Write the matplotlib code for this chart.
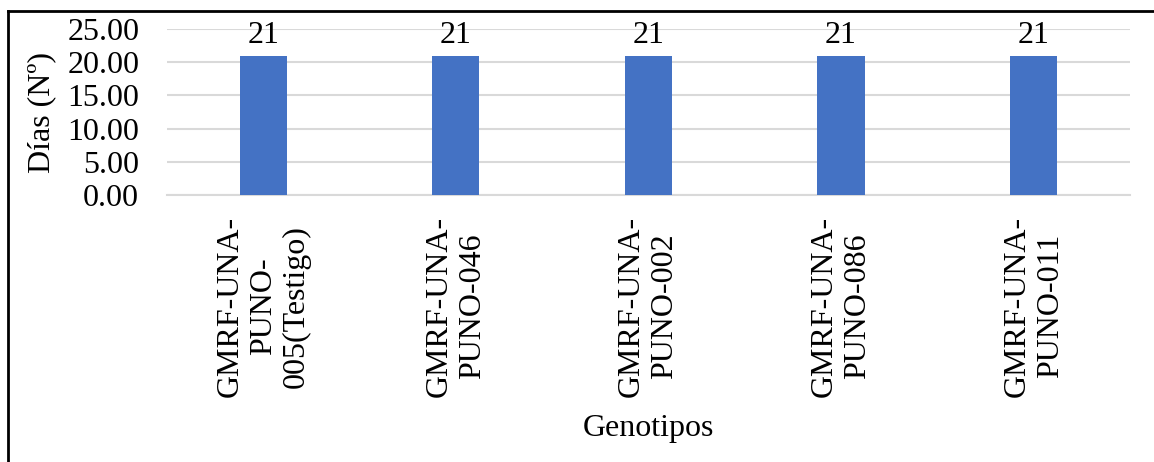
import matplotlib.pyplot as plt
from matplotlib.lines import Line2D

# Datos: días por genotipo
genotipos = ["GMRF-UNA-\nPUNO-\n005(Testigo)", "GMRF-UNA-\nPUNO-046",
             "GMRF-UNA-\nPUNO-002", "GMRF-UNA-\nPUNO-086", "GMRF-UNA-\nPUNO-011"]
dias = [21, 21, 21, 21, 21]
yticks = [0, 5, 10, 15, 20, 25]

plt.rcParams['font.family'] = ['Liberation Serif', 'DejaVu Serif']
fs = 23

fig = plt.figure(figsize=(11.54, 4.62), dpi=100)
ax = fig.add_axes([0.1447, 0.578, 0.8343, 0.359])

x = range(len(genotipos))
bars = ax.bar(x, dias, width=0.245, color='#4472C4', zorder=3)

for b, v in zip(bars, dias):
    ax.annotate(f"{v}", (b.get_x() + b.get_width() / 2, v), xytext=(0, 4),
                textcoords='offset points', ha='center', va='bottom', fontsize=fs)

ax.set_xlim(-0.5, len(genotipos) - 0.5)
ax.set_ylim(0, 25)
ax.set_yticks(yticks)
ax.set_yticklabels([f"{t:.2f}" for t in yticks], fontsize=fs)
ax.set_xticks(list(x))
ax.set_xticklabels(genotipos, rotation=90, fontsize=fs, ha='center', va='top',
                   multialignment='center', linespacing=1.2)
ax.tick_params(axis='x', length=0, pad=15)
ax.tick_params(axis='y', length=0, pad=20)

ax.grid(axis='y', color='#D9D9D9', linewidth=1.5, zorder=0)
for s in ['top', 'right', 'left']:
    ax.spines[s].set_visible(False)
ax.spines['bottom'].set_color('#D9D9D9')
ax.spines['bottom'].set_linewidth(1.5)

ax.set_ylabel("Días (Nº)", fontsize=fs)
ax.yaxis.set_label_coords(-0.1155, 0.5)
fig.text(0.5615, 0.073, "Genotipos", fontsize=fs, ha='center', va='center')

# Borde del gráfico (arriba e izquierda)
fig.add_artist(Line2D([0.007, 1.0], [0.977, 0.977], color='black', linewidth=2))
fig.add_artist(Line2D([0.007, 0.007], [0.0, 0.977], color='black', linewidth=2))

fig.savefig("out.png", dpi=100)
